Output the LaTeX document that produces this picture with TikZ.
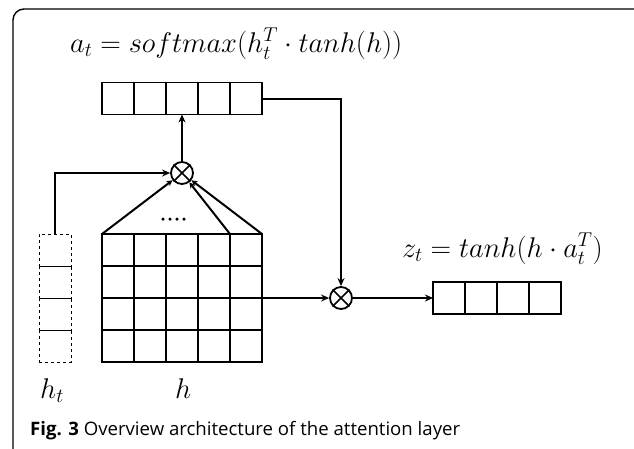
\RequirePackage{fix-cm}
\documentclass[tikz,border=0pt]{standalone}
\usepackage{fontspec}
\usepackage{graphicx}
\newfontfamily\capfont{Open Sans}
\usetikzlibrary{arrows.meta,calc}
\begin{document}
\begin{tikzpicture}[x=1pt,y=-1pt,
  cell/.style={draw,line width=1.3pt,minimum size=32pt,inner sep=0pt,outer sep=0pt},
  dcell/.style={draw,dashed,line width=1pt,minimum width=32pt,minimum height=32pt,inner sep=0pt,outer sep=0pt},
  mul/.style={draw,circle,line width=1.8pt,minimum size=22pt,inner sep=0pt},
  arr/.style={line width=2pt,-{Stealth[length=8pt,width=7pt]}},
  sarr/.style={line width=2pt,-{Stealth[length=6pt,width=6pt,open]}},
  dot/.style={circle,fill,inner sep=0pt,minimum size=3.5pt},
  lbl/.style={inner sep=0pt,anchor=base west,font=\fontsize{28.5}{34}\selectfont}]
\useasboundingbox (0,0) rectangle (634,448);
\fill[white] (0,0) rectangle (634,448);
\draw[line width=1.4pt,rounded corners=11pt] (13,457) -- (13,9) -- (645,9) -- (645,457);
% top bar a_t
\foreach \i in {1,...,5} {\node[cell] (a\i) at ({102+16+32*(\i-1)},98.5) {};}
% grid h
\foreach \r in {1,...,4} {\foreach \c in {1,...,5} {\node[cell] (g-\r-\c) at ({102+16+32*(\c-1)},{234+16+32*(\r-1)}) {};}}
% dashed h_t
\foreach \r in {1,...,4} {\node[dcell] (d\r) at (55,{234+16+32*(\r-1)}) {};}
% output bar z_t
\foreach \i in {1,...,4} {\node[cell] (z\i) at ({433+16+32*(\i-1)},298) {};}
% multiplication nodes
\node[mul] (m1) at (182,173) {};
\node[mul] (m2) at (341,298) {};
\foreach \m in {m1,m2} {\draw[line width=1.6pt] (\m.north west) -- (\m.south east) (\m.north east) -- (\m.south west);}
% connectors
\draw[arr] (d1.north) |- (m1.west);
\draw[sarr] (g-1-1.north west) -- (m1);
\draw[sarr] (g-1-4.north east) -- (m1);
\draw[sarr] (g-1-5.north east) -- (m1);
\draw[arr] (m1.north) -- (a3.south);
\draw[arr] (a5.east) -| (m2.north);
\draw[arr] (g-2-5.south east) -- (m2.west);
\draw[arr] (m2.east) -- (z1.west);
\foreach \k in {0,1,2,3} {\node[dot] (dot\k) at ({163+7*\k},219) {};}
% labels
\node[lbl] (la) at (70,52) {$a_t = softmax(h_t^T\cdot tanh(h))$};
\node[lbl] (lz) at (402,257) {$z_t = tanh(h\cdot a_t^T)$};
\node[lbl] (lht) at (40,398) {$h_t$};
\node[lbl] (lh) at (175,398) {$h$};
\node[anchor=base west,inner sep=0pt,font=\capfont\fontsize{18.5}{22}\selectfont] (cap) at (30,435) {\resizebox{430pt}{\height}{\textbf{Fig. 3} Overview architecture of the attention layer}};
\end{tikzpicture}
\end{document}
